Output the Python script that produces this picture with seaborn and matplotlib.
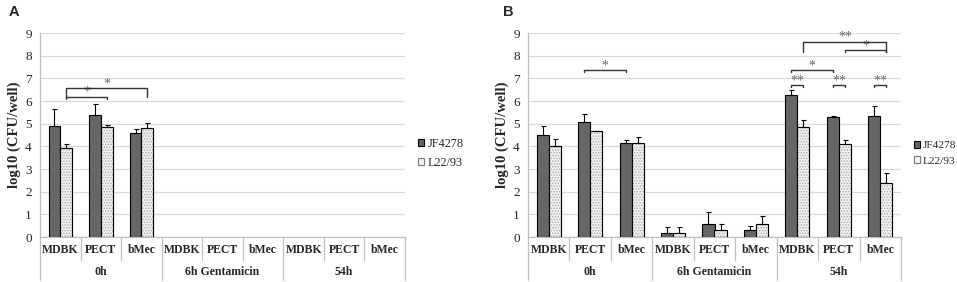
import numpy as np
import pandas as pd
import matplotlib
matplotlib.use('Agg')
import matplotlib.pyplot as plt
import matplotlib.transforms as mtransforms
from matplotlib.patches import Patch, Rectangle
import seaborn as sns

# categories
times = ['0h', '6h Gentamicin', '54h']
cells = ['MDBK', 'PECT', 'bMec']
strains = ['JF4278', 'L22/93']

# panel A values (only 0h measured)
a_jf4278 = [4.91, 5.40, 4.59, np.nan, np.nan, np.nan, np.nan, np.nan, np.nan]
a_jf4278_err = [0.74, 0.46, 0.16, 0, 0, 0, 0, 0, 0]
a_l2293 = [3.91, 4.87, 4.83, np.nan, np.nan, np.nan, np.nan, np.nan, np.nan]
a_l2293_err = [0.21, 0.09, 0.20, 0, 0, 0, 0, 0, 0]

# panel B values
b_jf4278 = [4.51, 5.07, 4.15, 0.16, 0.56, 0.31, 6.28, 5.28, 5.35]
b_jf4278_err = [0.37, 0.37, 0.14, 0.28, 0.53, 0.16, 0.22, 0.07, 0.41]
b_l2293 = [4.01, 4.66, 4.15, 0.16, 0.31, 0.57, 4.84, 4.12, 2.37]
b_l2293_err = [0.31, 0.03, 0.26, 0.28, 0.28, 0.36, 0.34, 0.17, 0.44]

# significance brackets: (slot1, strain1, slot2, strain2, level, tick depth, label)
a_sig = [(0, 1, 1, 1, 6.18, 0.10, '*'),
         (0, 1, 2, 1, 6.56, 0.40, '*')]
b_sig = [(1, 0, 2, 0, 7.35, 0.08, '*'),
         (6, 0, 6, 1, 6.69, 0.08, '**'),
         (7, 0, 7, 1, 6.69, 0.08, '**'),
         (8, 0, 8, 1, 6.69, 0.08, '**'),
         (6, 0, 7, 0, 7.35, 0.08, '*'),
         (6, 1, 8, 1, 8.60, 0.44, '**'),
         (7, 1, 8, 1, 8.24, 0.10, '*')]

DARK = '#666666'
LIGHT = '#f2f2f2'
GRID = '#d9d9d9'
SERIF = 'Liberation Serif'

sns.set_style('white')
plt.rcParams['font.family'] = [SERIF, 'DejaVu Serif']
plt.rcParams['hatch.linewidth'] = 0.7


def draw_panel(ax, jf, jf_err, l22, l22_err, sig, letter, legend_size):
    slots = [f'{t}|{c}' for t in times for c in cells]
    df = pd.DataFrame({
        'slot': slots * 2,
        'strain': [strains[0]] * len(slots) + [strains[1]] * len(slots),
        'value': list(jf) + list(l22),
    }).dropna()
    errs = [jf_err, l22_err]

    sns.barplot(data=df, x='slot', y='value', hue='strain', order=slots,
                hue_order=strains, palette=[DARK, LIGHT], width=0.58,
                edgecolor='black', linewidth=0.8, errorbar=None,
                legend=False, ax=ax, zorder=3)

    centers = {}
    for p in list(ax.patches):
        h = p.get_height()
        if not np.isfinite(h):
            continue
        cx = p.get_x() + p.get_width() / 2
        slot = int(round(cx))
        hue = 0 if cx < slot else 1
        centers[(slot, hue)] = cx
        if hue == 1:
            p.set_edgecolor('#a8a8a8')
            p.set_hatch('......')
            ax.add_patch(Rectangle(p.get_xy(), p.get_width(), h, fill=False,
                                   edgecolor='black', lw=0.8, zorder=4))
        ax.errorbar(cx, h, yerr=[[0], [errs[hue][slot]]], fmt='none',
                    ecolor='black', elinewidth=0.8, capsize=1.8,
                    capthick=0.8, zorder=5)

    for s1, h1, s2, h2, lev, dep, lab in sig:
        x1, x2 = centers[(s1, h1)], centers[(s2, h2)]
        ax.plot([x1, x1, x2, x2], [lev - dep, lev, lev, lev - dep],
                color='#333333', lw=1.0, zorder=6)
        ax.text((x1 + x2) / 2, lev + 0.2, lab, ha='center', va='center',
                fontsize=10, color='#666666')

    ax.set_xlim(-0.5, len(slots) - 0.5)
    ax.set_ylim(0, 9)
    ax.set_yticks(range(10))
    ax.yaxis.grid(True, color=GRID, lw=0.9, zorder=0)
    ax.set_axisbelow(True)
    for side in ['top', 'right']:
        ax.spines[side].set_visible(False)
    for side in ['left', 'bottom']:
        ax.spines[side].set_color('#bfbfbf')
        ax.spines[side].set_linewidth(0.9)
    ax.tick_params(axis='y', length=3, color='#bfbfbf', labelsize=9.5, pad=3)
    ax.set_xticks(range(len(slots)))
    ax.set_xticklabels(cells * len(times), fontsize=8.5, fontweight='bold')
    ax.tick_params(axis='x', length=0, pad=5)
    ax.set_xlabel('')
    ax.set_ylabel('log10 (CFU/well)', fontsize=10.5, fontweight='bold', labelpad=3)

    trans = mtransforms.blended_transform_factory(ax.transData, ax.transAxes)
    for i in range(len(slots) + 1):
        xb = i - 0.5
        low = -0.21 if i % len(cells) == 0 else -0.115
        ax.plot([xb, xb], [0, low], color='#bfbfbf', lw=0.9,
                transform=trans, clip_on=False)
    for j, t in enumerate(times):
        ax.text(j * len(cells) + 1, -0.17, t, transform=trans, ha='center',
                va='center', fontsize=8.5, fontweight='bold')

    handles = [Patch(facecolor=DARK, edgecolor='black', lw=0.8),
               Patch(facecolor=LIGHT, edgecolor='#777777', lw=0.8)]
    ax.legend(handles, strains, loc='center left', bbox_to_anchor=(1.035, 0.41),
              frameon=False, fontsize=legend_size, handlelength=0.55,
              handleheight=0.55, handletextpad=0.25, labelspacing=0.55,
              borderaxespad=0, borderpad=0)

    ax.text(-0.085 if letter == 'A' else -0.068, 1.105, letter,
            transform=ax.transAxes, fontsize=10.5, fontweight='bold',
            family='Liberation Sans', ha='left', va='center')


fig = plt.figure(figsize=(9.57, 2.82), dpi=100)
ax_a = fig.add_axes([40 / 957, 45 / 282, 365 / 957, 204 / 282])
ax_b = fig.add_axes([528 / 957, 45 / 282, 373 / 957, 204 / 282])

draw_panel(ax_a, a_jf4278, a_jf4278_err, a_l2293, a_l2293_err, a_sig, 'A', 8.8)
draw_panel(ax_b, b_jf4278, b_jf4278_err, b_l2293, b_l2293_err, b_sig, 'B', 8.2)

fig.savefig('out.png', dpi=100)
